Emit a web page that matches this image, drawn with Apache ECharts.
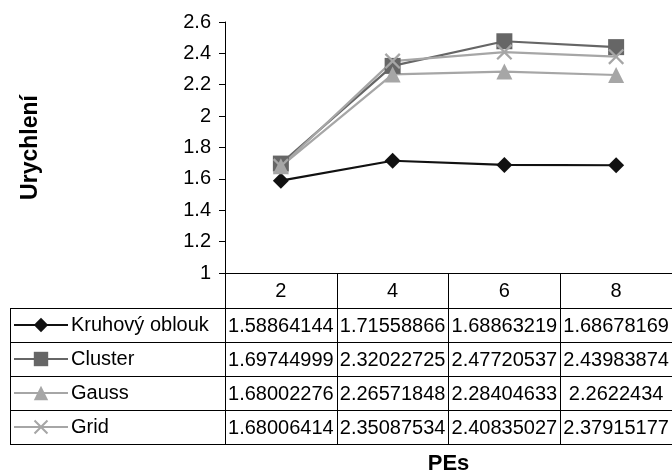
<!DOCTYPE html>
<html>
<head>
<meta charset="utf-8">
<script src="https://cdn.jsdelivr.net/npm/echarts@6/dist/echarts.min.js"></script>
<style>
html,body{margin:0;padding:0;background:#fff;}
#chart{width:672px;height:473px;}
</style>
</head>
<body>
<div id="chart"></div>
<script>
const categories = ['2', '4', '6', '8'];
const seriesNames = ['Kruhový oblouk', 'Cluster', 'Gauss', 'Grid'];
const kruhovyOblouk = [1.58864144, 1.71558866, 1.68863219, 1.68678169];
const cluster = [1.69744999, 2.32022725, 2.47720537, 2.43983874];
const gauss = [1.68002276, 2.26571848, 2.28404633, 2.2622434];
const gridVals = [1.68006414, 2.35087534, 2.40835027, 2.37915177];
const yTicks = [1, 1.2, 1.4, 1.6, 1.8, 2, 2.2, 2.4, 2.6];

const allValues = [kruhovyOblouk, cluster, gauss, gridVals];
const colors = ['#111111', '#666666', '#a6a6a6', '#a6a6a6'];
const xPath = 'path://M1,0 L5,4 L9,0 L10,1 L6,5 L10,9 L9,10 L5,6 L1,10 L0,9 L4,5 L0,1 Z';
const symbols = ['diamond', 'rect', 'triangle', xPath];
const symbolSizes = [16, 16, 16, 16];
const FONT = '"Liberation Sans", Arial, sans-serif';

const chart = echarts.init(document.getElementById('chart'), null, {renderer: 'canvas'});

const series = seriesNames.map((name, i) => ({
  name: name,
  type: 'line',
  data: allValues[i],
  symbol: symbols[i],
  symbolSize: symbolSizes[i],
  showAllSymbol: true,
  lineStyle: {color: colors[i], width: 2.2},
  itemStyle: {color: colors[i], borderWidth: 0},
  emphasis: {disabled: true},
  animation: false
}));

const option = {
  animation: false,
  backgroundColor: '#ffffff',
  textStyle: {fontFamily: FONT},
  grid: {left: 225, top: 22, right: 0, bottom: 200, containLabel: false, outerBoundsMode: 'none'},
  legend: {
    orient: 'vertical',
    left: 13,
    top: 315,
    padding: 0,
    itemWidth: 54,
    itemHeight: 18,
    itemGap: 14,
    selectedMode: false,
    textStyle: {fontSize: 20, color: '#000', fontFamily: FONT, lineHeight: 20, padding: [0, 0, 0, -2]},
    data: seriesNames
  },
  xAxis: {
    type: 'category',
    data: categories,
    boundaryGap: true,
    name: 'PEs',
    nameLocation: 'middle',
    nameGap: 180,
    nameTextStyle: {fontSize: 22, fontWeight: 'bold', color: '#000', fontFamily: FONT},
    axisLine: {show: true, lineStyle: {color: '#000', width: 1}},
    axisTick: {show: true, inside: false, length: 171, alignWithLabel: false, lineStyle: {color: '#000', width: 1}},
    axisLabel: {fontSize: 20, color: '#000', margin: 8, fontFamily: FONT},
    splitLine: {show: false}
  },
  yAxis: {
    type: 'value',
    min: yTicks[0],
    max: yTicks[yTicks.length - 1],
    interval: 0.2,
    name: 'Urychlení',
    nameLocation: 'middle',
    nameRotate: 90,
    nameGap: 183,
    nameTextStyle: {fontSize: 23, fontWeight: 'bold', color: '#000', fontFamily: FONT},
    axisLine: {show: true, lineStyle: {color: '#000', width: 1}},
    axisTick: {show: true, inside: false, length: 6, lineStyle: {color: '#000'}},
    axisLabel: {fontSize: 20, color: '#000', margin: 14, fontFamily: FONT,
      formatter: v => String(Math.round(v * 10) / 10)},
    splitLine: {show: false}
  },
  series: series
};

chart.setOption(option);

// Data table built from the axis scales
const axisY = chart.convertToPixel({yAxisIndex: 0}, yTicks[0]);
const headerH = 35;
const rowH = 34;
const tableLeft = 10;
const tableRight = 672;
const graphics = [];
const firstRowTop = axisY + headerH;
const nRows = seriesNames.length;
for (let r = 0; r <= nRows; r++) {
  const y = Math.round(firstRowTop + r * rowH) + 0.5;
  graphics.push({type: 'line', silent: true, shape: {x1: tableLeft, y1: y, x2: tableRight, y2: y},
    style: {stroke: '#000', lineWidth: 1}});
}
graphics.push({type: 'line', silent: true,
  shape: {x1: tableLeft + 0.5, y1: Math.round(firstRowTop) + 0.5, x2: tableLeft + 0.5, y2: Math.round(firstRowTop + nRows * rowH) + 0.5},
  style: {stroke: '#000', lineWidth: 1}});
for (let r = 0; r < nRows; r++) {
  const yc = firstRowTop + r * rowH + rowH / 2 + 1;
  categories.forEach((c, ci) => {
    const x = chart.convertToPixel({xAxisIndex: 0}, c);
    graphics.push({type: 'text', silent: true, x: x, y: yc,
      style: {text: String(allValues[r][ci]), fill: '#000', fontSize: 20, fontFamily: FONT,
        align: 'center', verticalAlign: 'middle'}});
  });
}
chart.setOption({graphic: graphics});
</script>
</body>
</html>
